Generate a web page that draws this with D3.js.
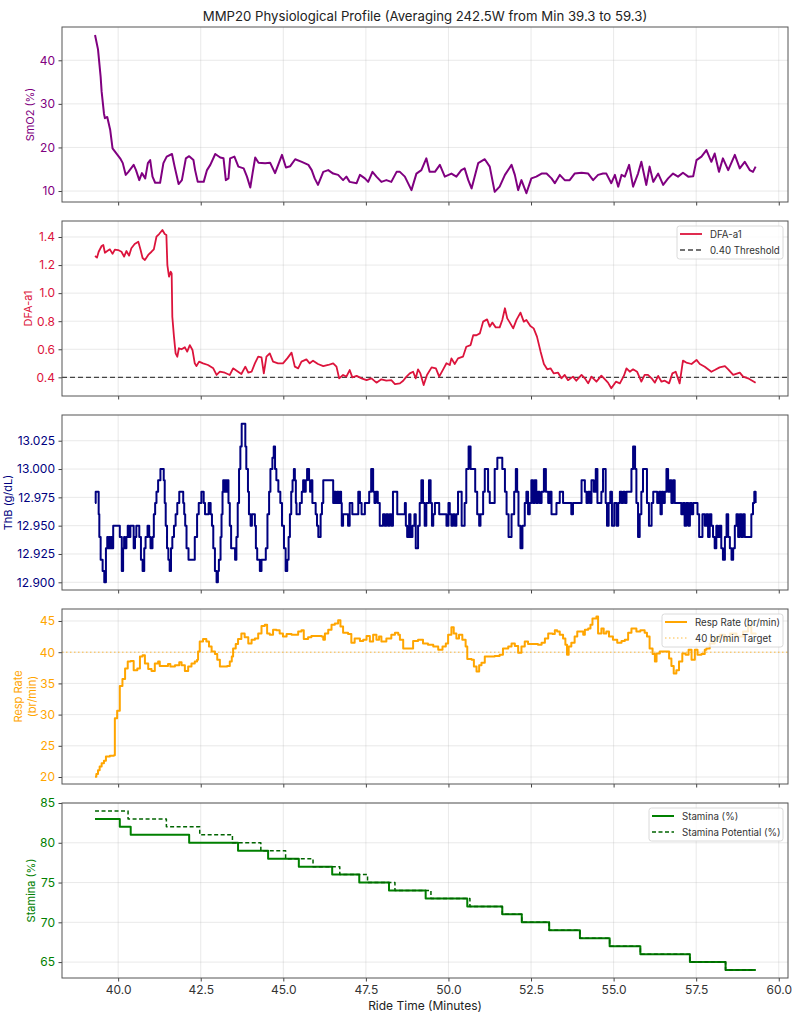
<!DOCTYPE html>
<html>
<head>
<meta charset="utf-8">
<script src="https://cdn.jsdelivr.net/npm/d3@7"></script>
<style>
  body { margin: 0; background: #fff; }
  svg { display: block; }
  text { font-family: Inter, "Open Sans", sans-serif; }
</style>
</head>
<body>
<svg id="chart" width="804" height="1024"></svg>
<script>
// ---- data (ride time in minutes, value) ----
const smo2 = [[39.30,45.8],[39.39,42.5],[39.47,36.2],[39.50,32.8],[39.57,27.8],[39.60,26.7],[39.67,27.0],[39.76,24.0],[39.83,19.8],[39.91,19.0],[40.06,17.5],[40.14,16.4],[40.23,13.7],[40.31,14.4],[40.47,16.0],[40.54,14.8],[40.64,12.5],[40.72,14.1],[40.82,12.9],[40.90,16.4],[40.97,17.1],[41.04,13.3],[41.12,11.9],[41.27,11.9],[41.37,16.4],[41.47,17.9],[41.63,18.5],[41.71,15.6],[41.83,11.6],[41.93,12.5],[42.05,17.5],[42.15,18.0],[42.28,17.1],[42.33,14.8],[42.41,12.1],[42.59,12.1],[42.69,14.8],[42.79,16.0],[42.94,18.5],[43.09,17.7],[43.19,17.5],[43.26,12.5],[43.34,12.9],[43.39,17.5],[43.52,17.9],[43.64,15.6],[43.80,15.2],[43.90,13.3],[44.00,10.8],[44.07,14.1],[44.15,17.7],[44.25,16.5],[44.45,16.4],[44.60,16.5],[44.75,14.1],[44.96,18.3],[45.08,15.4],[45.21,15.7],[45.36,17.3],[45.56,16.7],[45.76,16.0],[45.86,14.8],[45.95,12.9],[46.05,11.4],[46.21,14.4],[46.36,14.8],[46.51,14.0],[46.66,13.7],[46.81,12.5],[46.91,13.3],[47.01,12.1],[47.22,11.8],[47.32,13.7],[47.47,12.9],[47.57,12.1],[47.70,14.4],[47.82,13.3],[47.97,12.1],[48.12,12.5],[48.27,12.1],[48.43,14.4],[48.53,14.4],[48.68,13.3],[48.88,10.2],[49.03,14.0],[49.18,14.8],[49.33,17.5],[49.43,14.4],[49.59,14.4],[49.74,16.0],[49.89,13.3],[50.09,14.0],[50.24,13.3],[50.39,14.8],[50.49,15.2],[50.60,12.5],[50.70,10.6],[50.90,16.4],[51.10,17.3],[51.25,15.6],[51.40,9.8],[51.55,11.0],[51.71,13.7],[51.91,16.0],[52.01,13.7],[52.11,10.2],[52.21,12.5],[52.36,9.5],[52.51,12.9],[52.66,13.3],[52.82,14.0],[52.97,14.0],[53.12,12.9],[53.22,11.8],[53.37,13.7],[53.52,12.5],[53.67,12.5],[53.82,14.0],[54.03,14.2],[54.23,14.0],[54.38,12.5],[54.53,13.7],[54.68,14.0],[54.78,14.0],[54.93,11.8],[55.04,13.7],[55.14,11.0],[55.24,13.7],[55.34,13.3],[55.47,16.0],[55.59,11.0],[55.74,14.0],[55.84,16.7],[55.99,11.4],[56.09,15.6],[56.20,12.1],[56.35,14.0],[56.50,11.4],[56.65,12.9],[56.80,14.0],[56.95,13.3],[57.10,14.2],[57.26,13.3],[57.41,13.4],[57.51,17.1],[57.66,17.9],[57.81,19.4],[57.96,16.7],[58.06,18.6],[58.19,14.4],[58.31,17.5],[58.47,14.8],[58.67,18.3],[58.82,15.2],[58.97,16.7],[59.12,14.8],[59.22,14.4],[59.30,15.6]];

const dfa = [[39.30,1.265],[39.36,1.253],[39.41,1.295],[39.50,1.336],[39.55,1.343],[39.60,1.288],[39.67,1.30],[39.75,1.312],[39.83,1.28],[39.90,1.31],[40.00,1.307],[40.10,1.295],[40.18,1.26],[40.25,1.30],[40.33,1.267],[40.40,1.32],[40.50,1.35],[40.61,1.367],[40.68,1.307],[40.74,1.25],[40.81,1.236],[40.91,1.272],[41.01,1.295],[41.08,1.312],[41.16,1.402],[41.24,1.421],[41.34,1.45],[41.41,1.421],[41.46,1.414],[41.49,1.20],[41.54,1.117],[41.59,1.153],[41.62,1.14],[41.64,0.832],[41.69,0.69],[41.74,0.571],[41.79,0.547],[41.84,0.607],[41.92,0.60],[42.02,0.614],[42.09,0.583],[42.17,0.63],[42.25,0.595],[42.32,0.50],[42.37,0.48],[42.45,0.512],[42.57,0.50],[42.72,0.488],[42.88,0.464],[42.98,0.417],[43.08,0.44],[43.23,0.433],[43.38,0.417],[43.48,0.464],[43.63,0.44],[43.73,0.424],[43.85,0.476],[43.94,0.433],[44.04,0.44],[44.14,0.50],[44.24,0.547],[44.34,0.543],[44.41,0.428],[44.49,0.547],[44.59,0.571],[44.69,0.512],[44.84,0.50],[44.99,0.50],[45.12,0.535],[45.25,0.576],[45.35,0.476],[45.45,0.464],[45.55,0.512],[45.70,0.528],[45.80,0.50],[45.90,0.519],[46.05,0.495],[46.21,0.48],[46.36,0.488],[46.51,0.50],[46.61,0.476],[46.69,0.393],[46.81,0.417],[46.91,0.405],[47.01,0.452],[47.09,0.40],[47.22,0.41],[47.37,0.393],[47.52,0.38],[47.67,0.393],[47.82,0.362],[47.97,0.386],[48.12,0.376],[48.27,0.38],[48.38,0.352],[48.53,0.357],[48.63,0.376],[48.73,0.405],[48.83,0.428],[48.93,0.44],[49.01,0.393],[49.08,0.457],[49.15,0.428],[49.25,0.345],[49.35,0.417],[49.49,0.471],[49.62,0.464],[49.72,0.405],[49.84,0.457],[49.94,0.50],[50.04,0.488],[50.09,0.535],[50.19,0.495],[50.29,0.535],[50.44,0.547],[50.54,0.618],[50.67,0.63],[50.75,0.70],[50.85,0.70],[50.95,0.713],[51.05,0.797],[51.17,0.813],[51.25,0.761],[51.33,0.79],[51.43,0.756],[51.55,0.756],[51.63,0.809],[51.71,0.892],[51.78,0.82],[51.86,0.79],[51.96,0.749],[52.06,0.809],[52.18,0.861],[52.28,0.797],[52.36,0.809],[52.48,0.766],[52.58,0.749],[52.68,0.69],[52.79,0.583],[52.89,0.495],[52.99,0.457],[53.09,0.464],[53.19,0.428],[53.32,0.433],[53.42,0.393],[53.52,0.417],[53.62,0.38],[53.77,0.405],[53.87,0.376],[54.03,0.417],[54.13,0.393],[54.23,0.357],[54.33,0.405],[54.48,0.369],[54.63,0.412],[54.76,0.38],[54.83,0.362],[54.93,0.322],[55.07,0.369],[55.19,0.357],[55.31,0.41],[55.39,0.464],[55.49,0.44],[55.59,0.457],[55.71,0.44],[55.84,0.369],[55.94,0.417],[56.04,0.417],[56.15,0.393],[56.25,0.362],[56.35,0.41],[56.45,0.369],[56.55,0.376],[56.68,0.357],[56.78,0.428],[56.88,0.44],[57.00,0.357],[57.10,0.519],[57.20,0.505],[57.36,0.495],[57.51,0.524],[57.61,0.495],[57.76,0.476],[57.96,0.44],[58.06,0.452],[58.21,0.471],[58.37,0.48],[58.47,0.457],[58.62,0.417],[58.82,0.433],[58.92,0.405],[59.07,0.393],[59.30,0.362]];

const thb = [[39.30,12.97],[39.32,12.98],[39.41,12.96],[39.43,12.94],[39.47,12.92],[39.53,12.91],[39.58,12.90],[39.63,12.93],[39.67,12.94],[39.70,12.93],[39.73,12.94],[39.76,12.93],[39.79,12.94],[39.82,12.93],[39.85,12.95],[40.05,12.94],[40.11,12.91],[40.15,12.93],[40.18,12.94],[40.21,12.93],[40.25,12.94],[40.29,12.95],[40.33,12.94],[40.37,12.95],[40.47,12.93],[40.51,12.94],[40.55,12.95],[40.64,12.94],[40.69,12.92],[40.74,12.91],[40.79,12.93],[40.83,12.94],[40.89,12.95],[40.94,12.94],[40.98,12.93],[41.04,12.94],[41.08,12.96],[41.12,12.97],[41.16,12.98],[41.21,12.99],[41.28,13.00],[41.38,12.99],[41.41,12.97],[41.44,12.95],[41.48,12.93],[41.52,12.92],[41.56,12.91],[41.60,12.93],[41.64,12.94],[41.69,12.95],[41.74,12.96],[41.79,12.97],[41.85,12.98],[41.97,12.97],[42.00,12.96],[42.03,12.95],[42.07,12.93],[42.13,12.92],[42.32,12.94],[42.39,12.96],[42.44,12.97],[42.52,12.98],[42.59,12.97],[42.63,12.96],[42.74,12.97],[42.80,12.96],[42.84,12.95],[42.88,12.93],[42.93,12.91],[42.98,12.90],[43.02,12.91],[43.05,12.92],[43.10,12.94],[43.13,12.96],[43.16,12.98],[43.18,12.99],[43.22,12.98],[43.25,12.99],[43.28,12.98],[43.31,12.99],[43.34,12.97],[43.38,12.95],[43.42,12.93],[43.54,12.92],[43.58,12.94],[43.62,12.97],[43.66,13.00],[43.70,13.02],[43.74,13.04],[43.85,13.02],[43.88,13.00],[43.93,12.98],[43.96,12.96],[44.01,12.95],[44.05,12.96],[44.14,12.95],[44.17,12.93],[44.21,12.92],[44.29,12.91],[44.34,12.92],[44.47,12.93],[44.52,12.96],[44.57,12.98],[44.61,13.00],[44.67,13.01],[44.71,13.02],[44.75,13.00],[44.79,12.99],[44.85,12.98],[44.91,12.97],[44.96,12.95],[45.02,12.93],[45.07,12.91],[45.12,12.92],[45.16,12.94],[45.20,12.96],[45.24,12.98],[45.28,12.99],[45.32,13.00],[45.35,12.99],[45.38,12.97],[45.40,12.96],[45.50,12.97],[45.56,12.98],[45.60,12.99],[45.64,12.98],[45.68,12.99],[45.72,13.00],[45.78,12.99],[45.81,12.98],[45.84,12.99],[45.88,12.97],[45.98,12.96],[46.02,12.95],[46.06,12.94],[46.13,12.96],[46.17,12.97],[46.21,12.99],[46.51,12.97],[46.55,12.98],[46.59,12.97],[46.63,12.98],[46.67,12.97],[46.71,12.98],[46.75,12.97],[46.77,12.95],[46.81,12.96],[46.96,12.95],[47.01,12.97],[47.09,12.96],[47.27,12.98],[47.32,12.97],[47.37,12.96],[47.47,12.97],[47.60,12.98],[47.66,13.00],[47.72,12.98],[47.76,12.97],[47.80,12.98],[47.86,12.97],[47.92,12.95],[48.02,12.96],[48.07,12.95],[48.12,12.96],[48.17,12.95],[48.22,12.96],[48.27,12.95],[48.32,12.98],[48.45,12.96],[48.68,12.97],[48.71,12.95],[48.75,12.94],[48.81,12.96],[48.85,12.94],[48.91,12.95],[48.97,12.96],[49.01,12.93],[49.08,12.95],[49.13,12.97],[49.18,12.99],[49.23,12.97],[49.28,12.95],[49.33,12.97],[49.41,12.99],[49.46,12.97],[49.50,12.95],[49.54,12.96],[49.59,12.97],[49.72,12.96],[49.94,12.95],[50.00,12.97],[50.04,12.96],[50.09,12.95],[50.14,12.96],[50.19,12.95],[50.24,12.96],[50.29,12.98],[50.40,12.95],[50.49,12.97],[50.54,13.00],[50.61,13.02],[50.67,13.00],[50.81,12.98],[50.87,12.96],[50.93,12.95],[50.97,12.96],[51.05,12.98],[51.10,13.00],[51.20,12.98],[51.25,12.97],[51.40,13.00],[51.48,13.01],[51.63,13.00],[51.71,12.98],[51.76,12.96],[51.82,12.94],[51.91,12.96],[51.99,12.98],[52.04,13.00],[52.08,12.98],[52.12,12.95],[52.18,12.93],[52.24,12.95],[52.31,12.97],[52.36,12.98],[52.41,12.96],[52.46,12.97],[52.51,12.99],[52.56,12.97],[52.61,12.99],[52.66,12.97],[52.71,12.98],[52.76,12.97],[52.82,12.98],[52.89,13.00],[52.95,12.98],[53.02,12.97],[53.07,12.98],[53.12,12.96],[53.27,12.97],[53.37,12.98],[53.47,12.97],[53.72,12.96],[53.77,12.97],[54.03,12.99],[54.13,12.98],[54.18,12.97],[54.23,12.98],[54.28,12.97],[54.33,12.99],[54.40,12.98],[54.46,13.00],[54.51,12.97],[54.63,12.98],[54.68,13.00],[54.76,12.97],[54.80,12.95],[54.85,12.97],[54.90,12.98],[54.95,12.95],[55.02,12.97],[55.09,12.95],[55.14,12.97],[55.19,12.98],[55.24,12.97],[55.29,12.98],[55.34,12.97],[55.39,12.98],[55.54,13.00],[55.59,13.02],[55.65,13.00],[55.69,12.97],[55.74,12.94],[55.79,12.96],[55.84,12.98],[55.89,13.00],[56.01,12.97],[56.07,12.95],[56.15,12.97],[56.20,12.98],[56.32,12.97],[56.38,12.98],[56.42,12.96],[56.46,12.98],[56.50,12.97],[56.55,12.98],[56.60,13.00],[56.65,12.98],[56.70,12.99],[56.75,12.97],[56.80,12.99],[56.85,12.97],[57.05,12.96],[57.10,12.97],[57.15,12.95],[57.20,12.97],[57.26,12.95],[57.31,12.97],[57.36,12.96],[57.41,12.97],[57.54,12.96],[57.59,12.94],[57.69,12.96],[57.76,12.95],[57.81,12.96],[57.86,12.94],[57.91,12.96],[57.96,12.95],[58.01,12.94],[58.06,12.93],[58.11,12.95],[58.16,12.94],[58.21,12.95],[58.26,12.93],[58.31,12.92],[58.37,12.94],[58.42,12.96],[58.47,12.94],[58.52,12.93],[58.57,12.92],[58.62,12.93],[58.67,12.95],[58.72,12.96],[58.77,12.94],[58.82,12.96],[58.87,12.94],[58.92,12.96],[58.97,12.94],[59.17,12.96],[59.22,12.97],[59.26,12.98],[59.30,12.97]];

const resp = [[39.30,20.05],[39.34,20.5],[39.39,21.1],[39.44,21.7],[39.50,22.2],[39.57,22.6],[39.63,23.3],[39.75,23.4],[39.87,23.5],[39.90,29.4],[39.97,30.6],[40.05,34.6],[40.13,35.7],[40.21,37.4],[40.29,38.5],[40.38,38.6],[40.47,37.1],[40.58,37.4],[40.66,39.3],[40.74,39.5],[40.81,38.2],[40.91,37.3],[41.01,37.0],[41.11,38.2],[41.21,38.5],[41.26,37.8],[41.46,37.8],[41.51,38.1],[41.58,37.7],[41.72,37.9],[41.85,38.4],[41.92,37.9],[42.02,37.0],[42.12,37.7],[42.22,38.2],[42.32,38.5],[42.39,38.8],[42.42,40.1],[42.47,41.7],[42.57,42.1],[42.67,41.7],[42.75,40.9],[42.83,40.1],[42.93,39.7],[43.00,38.8],[43.08,37.7],[43.18,37.7],[43.30,37.8],[43.38,38.5],[43.44,39.3],[43.48,40.6],[43.56,41.3],[43.63,42.1],[43.73,43.0],[43.83,42.4],[43.94,41.4],[44.04,42.0],[44.14,42.2],[44.24,43.0],[44.34,44.2],[44.44,44.4],[44.51,43.0],[44.59,42.8],[44.69,43.6],[44.79,43.5],[44.89,43.0],[44.99,42.5],[45.10,42.9],[45.25,42.8],[45.40,42.8],[45.45,43.3],[45.55,43.5],[45.62,42.1],[45.75,42.4],[45.85,42.6],[46.16,42.5],[46.21,42.0],[46.26,43.0],[46.36,43.6],[46.46,44.4],[46.56,44.6],[46.66,45.1],[46.73,44.1],[46.81,43.1],[46.96,42.9],[47.06,41.5],[47.16,42.2],[47.32,41.8],[47.42,42.0],[47.52,42.6],[47.62,41.7],[47.72,42.8],[47.82,42.0],[47.90,42.5],[47.97,41.7],[48.12,42.2],[48.27,42.8],[48.38,43.1],[48.48,42.8],[48.53,42.0],[48.63,40.6],[48.83,40.6],[48.93,41.8],[49.08,42.0],[49.23,41.4],[49.38,41.2],[49.54,40.9],[49.69,40.4],[49.82,40.9],[49.92,41.4],[49.99,42.8],[50.09,44.0],[50.16,43.0],[50.24,42.2],[50.32,42.8],[50.42,42.0],[50.52,40.9],[50.57,38.9],[50.70,38.8],[50.77,37.7],[50.85,36.9],[50.93,37.9],[51.00,38.3],[51.10,39.3],[51.40,39.4],[51.55,39.6],[51.65,40.6],[51.81,40.9],[51.91,41.4],[52.01,41.0],[52.11,39.9],[52.21,40.9],[52.31,41.7],[52.41,41.3],[52.71,41.2],[52.82,41.5],[52.92,42.2],[53.02,43.0],[53.15,42.9],[53.22,43.5],[53.29,43.3],[53.37,42.8],[53.47,42.2],[53.54,41.2],[53.59,39.6],[53.64,40.9],[53.72,41.5],[53.82,42.5],[53.90,43.3],[54.08,42.8],[54.13,43.6],[54.23,43.8],[54.30,44.4],[54.36,45.4],[54.48,45.7],[54.53,43.0],[54.63,43.8],[54.70,43.0],[54.78,43.3],[54.86,42.5],[54.98,42.0],[55.11,41.5],[55.24,41.8],[55.34,42.0],[55.44,43.1],[55.54,43.8],[55.69,43.3],[55.81,43.5],[55.94,43.1],[56.01,42.5],[56.09,40.6],[56.18,39.7],[56.25,38.5],[56.30,39.8],[56.40,40.1],[56.68,39.0],[56.75,37.8],[56.82,36.6],[56.90,37.1],[56.98,38.5],[57.08,39.8],[57.18,39.6],[57.27,40.4],[57.36,38.8],[57.46,40.4],[57.54,39.6],[57.66,39.7],[57.76,40.4],[57.81,40.6],[57.91,41.4],[58.06,42.2],[58.21,42.8],[58.37,42.0],[58.52,43.0],[58.72,42.5],[58.92,43.3],[59.07,44.1],[59.17,43.0],[59.30,42.8]];

// stamina change points (value holds until the next point)
const stamina = [[39.30,83],[40.05,82],[40.38,81],[42.15,80],[43.63,79],[44.54,78],[45.47,77],[46.48,76],[47.30,75],[48.20,74],[49.31,73],[50.57,72],[51.63,71],[52.22,70],[53.05,69],[53.98,68],[54.88,67],[55.81,66],[57.31,65],[58.39,64],[59.30,64]];
const staminaPotential = [[39.30,84],[40.30,83],[41.46,82],[42.47,81],[43.46,80],[44.32,79],[45.07,78],[45.90,77],[46.71,76],[47.55,75],[48.38,74],[49.47,73],[50.65,72],[51.63,71],[52.22,70],[53.05,69],[53.98,68],[54.88,67],[55.81,66],[57.31,65],[58.39,64],[59.30,64]];

const dfaThreshold = 0.40;
const respTarget = 40;

// tick labels
const timeTicks = [40, 42.5, 45, 47.5, 50, 52.5, 55, 57.5, 60];
const smo2Ticks = [10, 20, 30, 40];
const dfaTicks = [0.4, 0.6, 0.8, 1.0, 1.2, 1.4];
const thbTicks = [12.9, 12.925, 12.95, 12.975, 13.0, 13.025];
const respTicks = [20, 25, 30, 35, 40, 45];
const staminaTicks = [65, 70, 75, 80, 85];

const TITLE = "MMP20 Physiological Profile (Averaging 242.5W from Min 39.3 to 59.3)";

// ---- layout ----
const LEFT = 62, RIGHT = 788;
const TOP0 = 27, STEP = 194, PANEL_H = 175;
const svg = d3.select("#chart");

const x = d3.scaleLinear().domain([38.3, 60.28]).range([LEFT, RIGHT]);

const panels = [
  { domain: [7.48, 47.64], ticks: smo2Ticks, fmt: d3.format("d"), color: "#800080",
    label: ["SmO2 (%)"], labelX: [30],
    series: [{ data: smo2, color: "#800080", width: 2, curve: d3.curveLinear }] },
  { domain: [0.267, 1.514], ticks: dfaTicks, fmt: d3.format(".1f"), color: "#dc143c",
    label: ["DFA-a1"], labelX: [28],
    series: [{ data: dfa, color: "#dc143c", width: 1.8, curve: d3.curveLinear }],
    hline: { value: dfaThreshold, color: "#444", width: 1.3, dash: "5,3", opacity: 1 },
    legend: { x: 677, y: 226, w: 106, rows: [
      { text: "DFA-a1", color: "#dc143c", width: 1.8, dash: null, opacity: 1 },
      { text: "0.40 Threshold", color: "#444", width: 1.3, dash: "5,3", opacity: 1 }] } },
  { domain: [12.8932, 13.0477], ticks: thbTicks, fmt: d3.format(".3f"), color: "#000080",
    label: ["ThB (g/dL)"], labelX: [8],
    series: [{ data: thb, color: "#000080", width: 2, curve: d3.curveStepAfter }] },
  { domain: [18.88, 46.92], ticks: respTicks, fmt: d3.format("d"), color: "#ffa500",
    label: ["Resp Rate", "(br/min)"], labelX: [18, 32],
    series: [{ data: resp, color: "#ffa500", width: 2, curve: d3.curveStepAfter }],
    hline: { value: respTarget, color: "#ffa500", width: 1, dash: "1.5,2.5", opacity: 0.75 },
    legend: { x: 662, y: 614, w: 121, rows: [
      { text: "Resp Rate (br/min)", color: "#ffa500", width: 2, dash: null, opacity: 1 },
      { text: "40 br/min Target", color: "#ffa500", width: 1, dash: "1.5,2.5", opacity: 0.75 }] } },
  { domain: [63, 85], ticks: staminaTicks, fmt: d3.format("d"), color: "#008000",
    label: ["Stamina (%)"], labelX: [31],
    series: [
      { data: stamina, color: "#008000", width: 2, curve: d3.curveStepAfter },
      { data: staminaPotential, color: "#006400", width: 1.5, dash: "4,2.5", curve: d3.curveStepAfter }],
    legend: { x: 649, y: 808, w: 134, rows: [
      { text: "Stamina (%)", color: "#008000", width: 2, dash: null, opacity: 1 },
      { text: "Stamina Potential (%)", color: "#006400", width: 1.5, dash: "4,2.5", opacity: 1 }] } }
];

// title
svg.append("text")
  .attr("x", (LEFT + RIGHT) / 2).attr("y", 21)
  .attr("text-anchor", "middle")
  .attr("font-size", 13.2).attr("fill", "#222")
  .text(TITLE);

panels.forEach((p, i) => {
  const top = TOP0 + i * STEP, bottom = top + PANEL_H;
  const y = d3.scaleLinear().domain(p.domain).range([bottom, top]);
  const g = svg.append("g");

  g.append("clipPath").attr("id", "clip" + i)
    .append("rect").attr("x", LEFT).attr("y", top)
    .attr("width", RIGHT - LEFT).attr("height", PANEL_H);

  // grid
  g.selectAll("line.gx").data(timeTicks).enter().append("line")
    .attr("x1", d => x(d)).attr("x2", d => x(d))
    .attr("y1", top).attr("y2", bottom)
    .attr("stroke", "#b0b0b0").attr("stroke-opacity", 0.35).attr("stroke-width", 0.8);
  g.selectAll("line.gy").data(p.ticks).enter().append("line")
    .attr("x1", LEFT).attr("x2", RIGHT)
    .attr("y1", d => y(d)).attr("y2", d => y(d))
    .attr("stroke", "#b0b0b0").attr("stroke-opacity", 0.35).attr("stroke-width", 0.8);

  // reference line
  if (p.hline) {
    g.append("line")
      .attr("x1", LEFT).attr("x2", RIGHT)
      .attr("y1", y(p.hline.value)).attr("y2", y(p.hline.value))
      .attr("stroke", p.hline.color).attr("stroke-width", p.hline.width)
      .attr("stroke-dasharray", p.hline.dash).attr("stroke-opacity", p.hline.opacity);
  }

  // series
  p.series.forEach(s => {
    const line = d3.line().x(d => x(d[0])).y(d => y(d[1])).curve(s.curve);
    g.append("path")
      .attr("clip-path", `url(#clip${i})`)
      .attr("d", line(s.data))
      .attr("fill", "none")
      .attr("stroke", s.color).attr("stroke-width", s.width)
      .attr("stroke-dasharray", s.dash || null)
      .attr("stroke-linejoin", "round");
  });

  // axes
  const ay = g.append("g").attr("transform", `translate(${LEFT},0)`)
    .call(d3.axisLeft(y).tickValues(p.ticks).tickFormat(p.fmt).tickSize(3.5).tickPadding(3.5));
  ay.select(".domain").remove();
  ay.selectAll("line").attr("stroke", "#444");
  ay.selectAll("text").attr("font-size", 12).attr("fill", p.color).attr("font-family", null);

  const ax = g.append("g").attr("transform", `translate(0,${bottom})`)
    .call(d3.axisBottom(x).tickValues(timeTicks).tickFormat(i === panels.length - 1 ? d3.format(".1f") : "")
      .tickSize(3.5).tickPadding(3.5));
  ax.select(".domain").remove();
  ax.selectAll("line").attr("stroke", "#444");
  ax.selectAll("text").attr("font-size", 12).attr("fill", "#333").attr("font-family", null);

  // frame
  g.append("rect")
    .attr("x", LEFT).attr("y", top).attr("width", RIGHT - LEFT).attr("height", PANEL_H)
    .attr("fill", "none").attr("stroke", "#555").attr("stroke-width", 1);

  // y label
  p.label.forEach((t, k) => {
    g.append("text")
      .attr("transform", `translate(${p.labelX[k]},${(top + bottom) / 2}) rotate(-90)`)
      .attr("text-anchor", "middle").attr("dominant-baseline", "central")
      .attr("font-size", 11).attr("fill", p.color)
      .text(t);
  });

  // legend
  if (p.legend) {
    const L = p.legend;
    const lg = g.append("g");
    lg.append("rect")
      .attr("x", L.x).attr("y", L.y).attr("width", L.w).attr("height", 16 * L.rows.length + 1)
      .attr("rx", 2.5)
      .attr("fill", "#fff").attr("fill-opacity", 0.8)
      .attr("stroke", "#d0d0d0").attr("stroke-width", 0.8);
    L.rows.forEach((r, k) => {
      const ry = L.y + 8 + k * 16;
      lg.append("line")
        .attr("x1", L.x + 3).attr("x2", L.x + 25).attr("y1", ry).attr("y2", ry)
        .attr("stroke", r.color).attr("stroke-width", r.width)
        .attr("stroke-dasharray", r.dash).attr("stroke-opacity", r.opacity);
      lg.append("text")
        .attr("x", L.x + 33).attr("y", ry).attr("dominant-baseline", "central")
        .attr("font-size", 9.7).attr("fill", "#333")
        .text(r.text);
    });
  }
});

// x label
svg.append("text")
  .attr("x", (LEFT + RIGHT) / 2).attr("y", 1010)
  .attr("text-anchor", "middle")
  .attr("font-size", 12).attr("fill", "#222")
  .text("Ride Time (Minutes)");
</script>
</body>
</html>
